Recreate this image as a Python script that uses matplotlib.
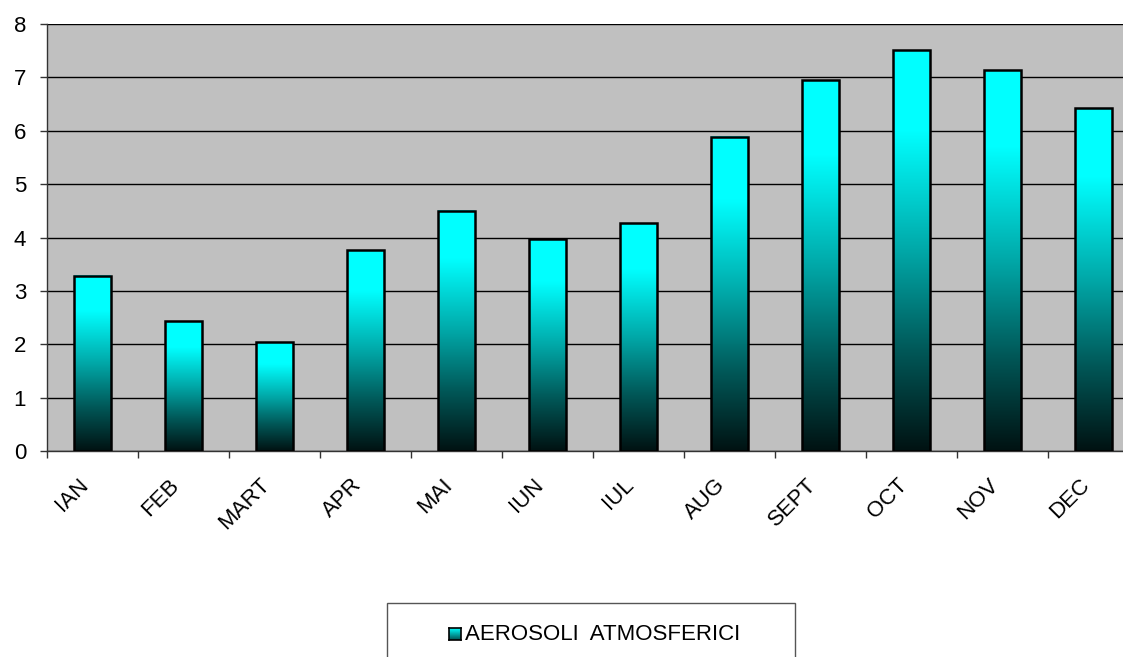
import numpy as np
import matplotlib
matplotlib.use("Agg")
import matplotlib.pyplot as plt
from matplotlib.patches import Rectangle
from matplotlib.colors import LinearSegmentedColormap

categories = ["IAN", "FEB", "MART", "APR", "MAI", "IUN", "IUL", "AUG", "SEPT", "OCT", "NOV", "DEC"]
values = [3.28, 2.43, 2.04, 3.76, 4.50, 3.97, 4.27, 5.89, 6.95, 7.51, 7.13, 6.42]
series_name = "AEROSOLI  ATMOSFERICI"
y_ticks = [0, 1, 2, 3, 4, 5, 6, 7, 8]

plt.rcParams['font.family'] = ['Liberation Sans', 'DejaVu Sans']
FS = 16

W, H = 1123, 657
fig = plt.figure(figsize=(W / 100, H / 100), dpi=100)
fig.patch.set_facecolor("white")

left = 47 / W
bottom = (H - 451) / H
top = (H - 24) / H
ax = fig.add_axes([left, bottom, 1092 / W, top - bottom])
ax.set_facecolor("#C0C0C0")

cmap = LinearSegmentedColormap.from_list(
    "cyanfade", [(0.0, "#001212"), (0.25, "#005858"), (0.5, "#00a8a8"),
                 (0.8, "#00FFFF"), (1.0, "#00FFFF")])
grad = np.linspace(0, 1, 256).reshape(-1, 1)

x = np.arange(len(categories))
bw = 0.4
for xi, v in zip(x, values):
    ax.imshow(grad, extent=[xi - bw / 2, xi + bw / 2, 0, v], origin="lower",
              aspect="auto", cmap=cmap, zorder=2.5, interpolation="bilinear")
ax.bar(x, values, width=bw, color="none", edgecolor="black", linewidth=1.8, zorder=3)

ax.set_xlim(-0.5, len(categories) - 0.5)
ax.set_ylim(0, 8)
ax.set_yticks(y_ticks)
ax.set_yticklabels([str(t) for t in y_ticks], fontsize=FS)
ax.yaxis.grid(True, color="black", linewidth=1.0, zorder=1)
ax.set_axisbelow(True)

ax.set_xticks(x)
ax.set_xticklabels(categories, fontsize=FS, rotation=45, ha="right", va="top")
ax.set_xticks(np.arange(len(categories) + 1) - 0.5, minor=True)
ax.tick_params(axis="x", which="major", length=0, pad=17)
ax.tick_params(axis="x", which="minor", length=5, width=1, color="#333333")
ax.tick_params(axis="y", length=5, width=1, color="#333333", pad=10)

for s in ["top", "right"]:
    ax.spines[s].set_visible(False)
ax.spines["left"].set_color("#333333")
ax.spines["bottom"].set_color("#333333")
ax.spines["left"].set_linewidth(1)
ax.spines["bottom"].set_linewidth(1)

# legend box
lx0, ly0, lx1, ly1 = 387, 603, 795, 670
fig.patches.append(Rectangle((lx0 / W, 1 - ly1 / H), (lx1 - lx0) / W, (ly1 - ly0) / H,
                             transform=fig.transFigure, facecolor="white",
                             edgecolor="#555555", linewidth=1.0, zorder=-5))
lax = fig.add_axes([449 / W, 1 - 640 / H, 12 / W, 12 / H])
lax.set_zorder(5)
lax.imshow(grad, extent=[0, 1, 0, 1], origin="lower", aspect="auto",
           cmap=LinearSegmentedColormap.from_list("lg", ["#005050", "#00FFFF"]))
lax.set_xticks([]); lax.set_yticks([])
for s in lax.spines.values():
    s.set_color("black"); s.set_linewidth(1.2)
fig.text(465 / W, 1 - 634 / H, series_name, fontsize=FS, ha="left", va="center", zorder=6)

fig.savefig("out.png", dpi=100)
